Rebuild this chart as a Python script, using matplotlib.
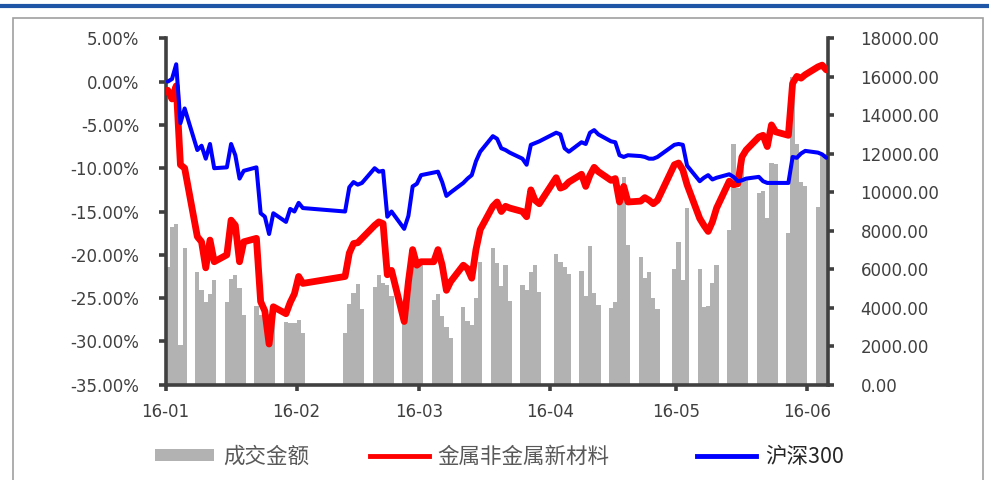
import numpy as np
import pandas as pd
import matplotlib
matplotlib.use("Agg")
import matplotlib.pyplot as plt
import matplotlib.dates as mdates
from matplotlib.patches import Patch, Rectangle
from matplotlib.lines import Line2D
from matplotlib.ticker import FixedLocator, MultipleLocator, FuncFormatter

# Trading calendar (Shanghai/Shenzhen), 2016-01-04 .. 2016-06-08
holidays = ["2016-02-08", "2016-02-09", "2016-02-10", "2016-02-11", "2016-02-12",
            "2016-04-04", "2016-05-02"]
trade_dates = pd.bdate_range("2016-01-04", "2016-06-08").difference(pd.to_datetime(holidays))

# Turnover (right axis)
volume = [
    # Jan
    6130, 8210, 8340, 2060, 7090,
    5840, 4920, 4320, 4700, 5440,
    4320, 5480, 5700, 5040, 3620,
    4100, 3600, 3900, 3700, 4100,
    # Feb
    3270, 3190, 3220, 3360, 2670,
    2700, 4180, 4750, 5220, 3930,
    5100, 5700, 5300, 5200, 4600,
    4100,
    # Mar
    4900, 6300, 6300, 6200,
    4400, 4700, 3570, 3000, 2450,
    4050, 3300, 3100, 4500, 6400,
    7090, 6300, 5150, 6200, 4350,
    5200, 4900, 5870, 6200,
    # Apr
    4800,
    6770, 6400, 6140, 5740,
    5910, 4610, 7230, 4750, 4140,
    3970, 4280, 10200, 10800, 7260,
    6650, 5560, 5870, 4500, 3940,
    # May
    6000, 7400, 5450, 9200,
    6000, 4050, 4100, 5300, 6200,
    8040, 12500, 10200, 11300, 10800,
    9950, 10060, 8650, 11540, 11470,
    7870, 16000,
    # Jun
    12500, 10550, 10300,
    9250, 11900, 12000,
]

# Cumulative return of the metals & new-materials sector (%)
sector = [
    # Jan
    -1.0, -2.0, -0.5, -9.6, -10.0,
    -17.9, -18.5, -21.5, -18.3, -20.8,
    -20.0, -16.0, -16.6, -20.8, -18.5,
    -18.1, -25.4, -26.5, -30.3, -26.0,
    # Feb
    -26.8, -25.5, -24.5, -22.5, -23.3,
    -22.5, -19.8, -18.7, -18.6, -18.1,
    -16.6, -16.2, -16.4, -22.3, -21.8,
    -27.7,
    # Mar
    -23.1, -19.4, -21.2, -20.8,
    -20.8, -19.4, -21.2, -24.1, -23.1,
    -21.2, -21.6, -22.7, -19.4, -17.1,
    -14.4, -13.9, -15.0, -14.4, -14.6,
    -15.0, -15.6, -12.5, -13.7,
    # Apr
    -14.1,
    -11.1, -12.3, -12.1, -11.6,
    -10.7, -12.1, -10.8, -9.9, -10.4,
    -11.4, -11.2, -13.9, -12.1, -13.9,
    -13.8, -13.4, -13.7, -14.1, -13.7,
    # May
    -9.6, -9.4, -10.2, -11.9,
    -15.8, -16.6, -17.3, -16.2, -14.6,
    -11.5, -11.9, -11.8, -8.7, -7.9,
    -6.4, -6.2, -7.5, -5.0, -5.8,
    -6.2, -0.2,
    # Jun
    0.6, 0.4, 0.8,
    1.7, 1.9, 1.35,
]

# CSI 300 cumulative return (%)
hs300 = [
    # Jan
    0.0, 0.3, 2.0, -4.8, -3.1,
    -7.9, -7.4, -8.9, -7.2, -10.0,
    -9.9, -7.2, -8.5, -11.2, -10.3,
    -9.9, -15.2, -15.6, -17.6, -15.2,
    # Feb
    -16.2, -14.7, -15.0, -14.0, -14.6,
    -15.0, -12.2, -11.6, -11.9, -11.7,
    -10.0, -10.4, -10.3, -15.6, -15.0,
    -17.0,
    # Mar
    -15.5, -12.1, -11.8, -10.8,
    -10.5, -10.4, -11.6, -13.2, -12.8,
    -11.7, -11.2, -10.8, -9.2, -8.1,
    -6.3, -6.6, -7.7, -7.9, -8.2,
    -8.9, -9.6, -7.3, -7.1,
    # Apr
    -6.9,
    -5.9, -6.1, -7.7, -8.1,
    -7.0, -7.2, -5.9, -5.6, -6.1,
    -6.9, -7.0, -8.5, -8.7, -8.5,
    -8.6, -8.7, -8.9, -8.9, -8.7,
    # May
    -7.3, -7.2, -7.3, -9.7,
    -11.5, -11.1, -10.8, -11.3, -11.1,
    -10.7, -11.0, -11.5, -11.4, -11.2,
    -11.0, -11.5, -11.7, -11.7, -11.7,
    -11.7, -8.7,
    # Jun
    -8.8, -8.3, -8.0,
    -8.2, -8.4, -8.8,
]

month_ticks = pd.to_datetime(["2016-01-04", "2016-02-04", "2016-03-04",
                              "2016-04-04", "2016-05-04", "2016-06-04"])

series_names = ["成交金额", "金属非金属新材料", "沪深300"]

AXIS_GRAY = "#404040"
TEXT_GRAY = "#404040"
BAR_GRAY = "#B2B2B2"
RED = "#FF0000"
BLUE = "#0000FF"

W, H = 989, 480
fig = plt.figure(figsize=(W / 100, H / 100), dpi=100)

# page decorations: blue rule on top and light frame
fig.add_artist(Line2D([0, 1], [1 - 5.5 / H, 1 - 5.5 / H], transform=fig.transFigure,
                      color="#1F56A5", lw=3.0))
fig.add_artist(Rectangle((13 / W, -0.01), (983 - 13) / W, 1 - 18 / H + 0.01,
                         transform=fig.transFigure, fill=False,
                         edgecolor="#A0A0A0", lw=1.2))

ax = fig.add_axes([0.1675, 0.1985, 0.6702, 0.7217])
ax2 = ax.twinx()

# turnover bars on the right-hand axis, behind the lines
ax2.bar(trade_dates, volume, width=1.0, align="edge", color=BAR_GRAY, linewidth=0)
ax2.set_ylim(0, 18000)
ax2.yaxis.set_major_locator(MultipleLocator(2000))
ax2.yaxis.set_major_formatter(FuncFormatter(lambda v, p: f"{v:.2f}"))

centers = trade_dates + pd.Timedelta(hours=12)
ax.plot(centers, sector, color=RED, lw=4.9, solid_joinstyle="round",
        solid_capstyle="round", zorder=3)
ax.plot(centers, hs300, color=BLUE, lw=2.9, solid_joinstyle="round",
        solid_capstyle="round", zorder=4)
ax.set_ylim(-35, 5)
ax.yaxis.set_major_locator(MultipleLocator(5))
ax.yaxis.set_major_formatter(FuncFormatter(lambda v, p: f"{v:.2f}%"))

ax.set_zorder(ax2.get_zorder() + 1)
ax.patch.set_visible(False)

ax.set_xlim(pd.Timestamp("2016-01-04"), pd.Timestamp("2016-06-09"))
ax.xaxis.set_major_locator(FixedLocator(mdates.date2num(month_ticks)))
ax.xaxis.set_major_formatter(mdates.DateFormatter("%y-%m"))

for a in (ax, ax2):
    a.spines["top"].set_visible(False)
    for s in ("left", "right", "bottom"):
        a.spines[s].set_color(AXIS_GRAY)
        a.spines[s].set_linewidth(2.6)
ax.spines["right"].set_visible(False)
ax2.spines["left"].set_visible(False)
ax2.spines["bottom"].set_visible(False)

ax.tick_params(axis="y", direction="out", length=5, width=2.6, color=AXIS_GRAY,
               labelsize=12, labelcolor=TEXT_GRAY, pad=14)
ax.tick_params(axis="x", direction="out", length=4, width=2.6, color=AXIS_GRAY,
               labelsize=12, labelcolor=TEXT_GRAY, pad=9)
ax2.tick_params(axis="y", direction="out", length=4, width=2.6, color=AXIS_GRAY,
                labelsize=12, labelcolor=TEXT_GRAY, pad=19)

# legend: one entry per series, laid out along the bottom
handles = [Patch(facecolor=BAR_GRAY, edgecolor="none"),
           Line2D([], [], color=RED, lw=3.5),
           Line2D([], [], color=BLUE, lw=3.5)]
entry_left = [155, 370, 697]
leg_prop = {"family": ["Noto Sans CJK SC", "DejaVu Sans"], "size": 15.5}
for h, name, x0 in zip(handles, series_names, entry_left):
    leg = fig.legend([h], [name], loc="center left", bbox_to_anchor=(x0 / W, 1 - 457 / H),
                     frameon=False, borderpad=0, borderaxespad=0,
                     handlelength=2.75, handleheight=0.47, handletextpad=0.4,
                     prop=leg_prop)
    for t in leg.get_texts():
        t.set_color("#595959" if name != "沪深300" else "#262626")

fig.savefig("out.png", dpi=100)
